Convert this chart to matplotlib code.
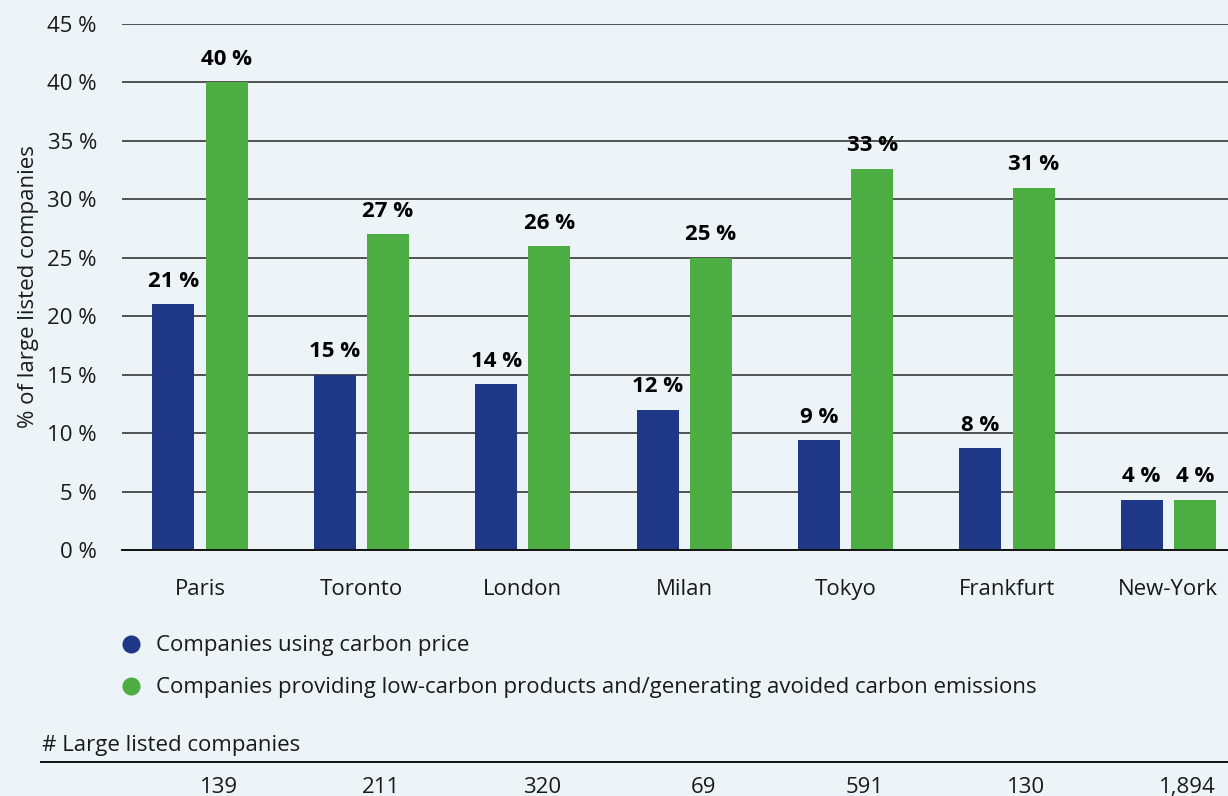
import matplotlib.pyplot as plt
import matplotlib.transforms as mtransforms
from matplotlib.lines import Line2D
import numpy as np

plt.rcParams['font.family'] = ['Open Sans', 'DejaVu Sans']

# data
cities = ['Paris', 'Toronto', 'London', 'Milan', 'Tokyo', 'Frankfurt', 'New-York']
carbon_price = [21, 15, 14.2, 12, 9.4, 8.7, 4.3]
low_carbon = [40, 27, 26, 25, 32.6, 31, 4.3]
carbon_labels = ['21 %', '15 %', '14 %', '12 %', '9 %', '8 %', '4 %']
low_labels = ['40 %', '27 %', '26 %', '25 %', '33 %', '31 %', '4 %']
n_companies = ['139', '211', '320', '69', '591', '130', '1,894']
series_names = ['Companies using carbon price',
                'Companies providing low-carbon products and/generating avoided carbon emissions']

bg = '#EDF4F8'
blue = '#1E3887'
green = '#4CAD43'
fs = 16

fig = plt.figure(figsize=(12.28, 7.96), dpi=100, facecolor=bg)
ax = fig.add_axes([0.0993, 0.309, 0.9007, 0.661])
ax.set_facecolor(bg)

x = np.arange(len(cities))
w = 0.26
off = 0.165
b1 = ax.bar(x - off, carbon_price, w, color=blue, zorder=3)
b2 = ax.bar(x + off, low_carbon, w, color=green, zorder=3)

for bars, labs in [(b1, carbon_labels), (b2, low_labels)]:
    for rect, lab in zip(bars, labs):
        ax.annotate(lab, (rect.get_x() + rect.get_width() / 2, rect.get_height()),
                    xytext=(0, 9), textcoords='offset points', ha='center', va='bottom',
                    fontsize=fs, fontweight='bold', color='black')

ax.set_ylim(0, 45)
ax.set_xlim(-0.484, 6.37)
yt = np.arange(0, 50, 5)
ax.set_yticks(yt)
ax.set_yticklabels([f'{v} %' for v in yt], fontsize=fs, color='#1a1a1a')
ax.set_xticks(x)
ax.set_xticklabels(cities, fontsize=fs, color='#1a1a1a')
ax.tick_params(axis='both', length=0)
ax.tick_params(axis='y', pad=18)
ax.tick_params(axis='x', pad=21)
ax.grid(axis='y', color='#444444', linewidth=1.3, zorder=0)
for s in ['top', 'right', 'left']:
    ax.spines[s].set_visible(False)
ax.spines['bottom'].set_color('#111111')
ax.spines['bottom'].set_linewidth(1.4)
ax.spines['bottom'].set_zorder(4)
ax.set_ylabel('% of large listed companies', fontsize=fs, color='#1a1a1a', labelpad=6)

# legend
handles = [Line2D([], [], marker='o', linestyle='none', markersize=12, color=c) for c in (blue, green)]
fig.legend(handles, series_names, loc='upper left', bbox_to_anchor=(0.0905, 0.213),
           frameon=False, fontsize=fs, handletextpad=0.6, labelspacing=0.95,
           handlelength=1.0, labelcolor='#1a1a1a', borderaxespad=0)

# table of company counts
fig.text(0.034, 0.050, '# Large listed companies', fontsize=fs, color='#1a1a1a',
         va='bottom')
fig.add_artist(Line2D([0.033, 1.0], [0.043, 0.043], color='#111111', linewidth=1.4))
trans = mtransforms.blended_transform_factory(ax.transData, fig.transFigure)
for xi, n in zip(x, n_companies):
    ax.text(xi + 0.12, 0.011, n, transform=trans, ha='center', va='center',
            fontsize=fs, color='#1a1a1a', clip_on=False)

fig.savefig('out.png', dpi=100, facecolor=bg)
